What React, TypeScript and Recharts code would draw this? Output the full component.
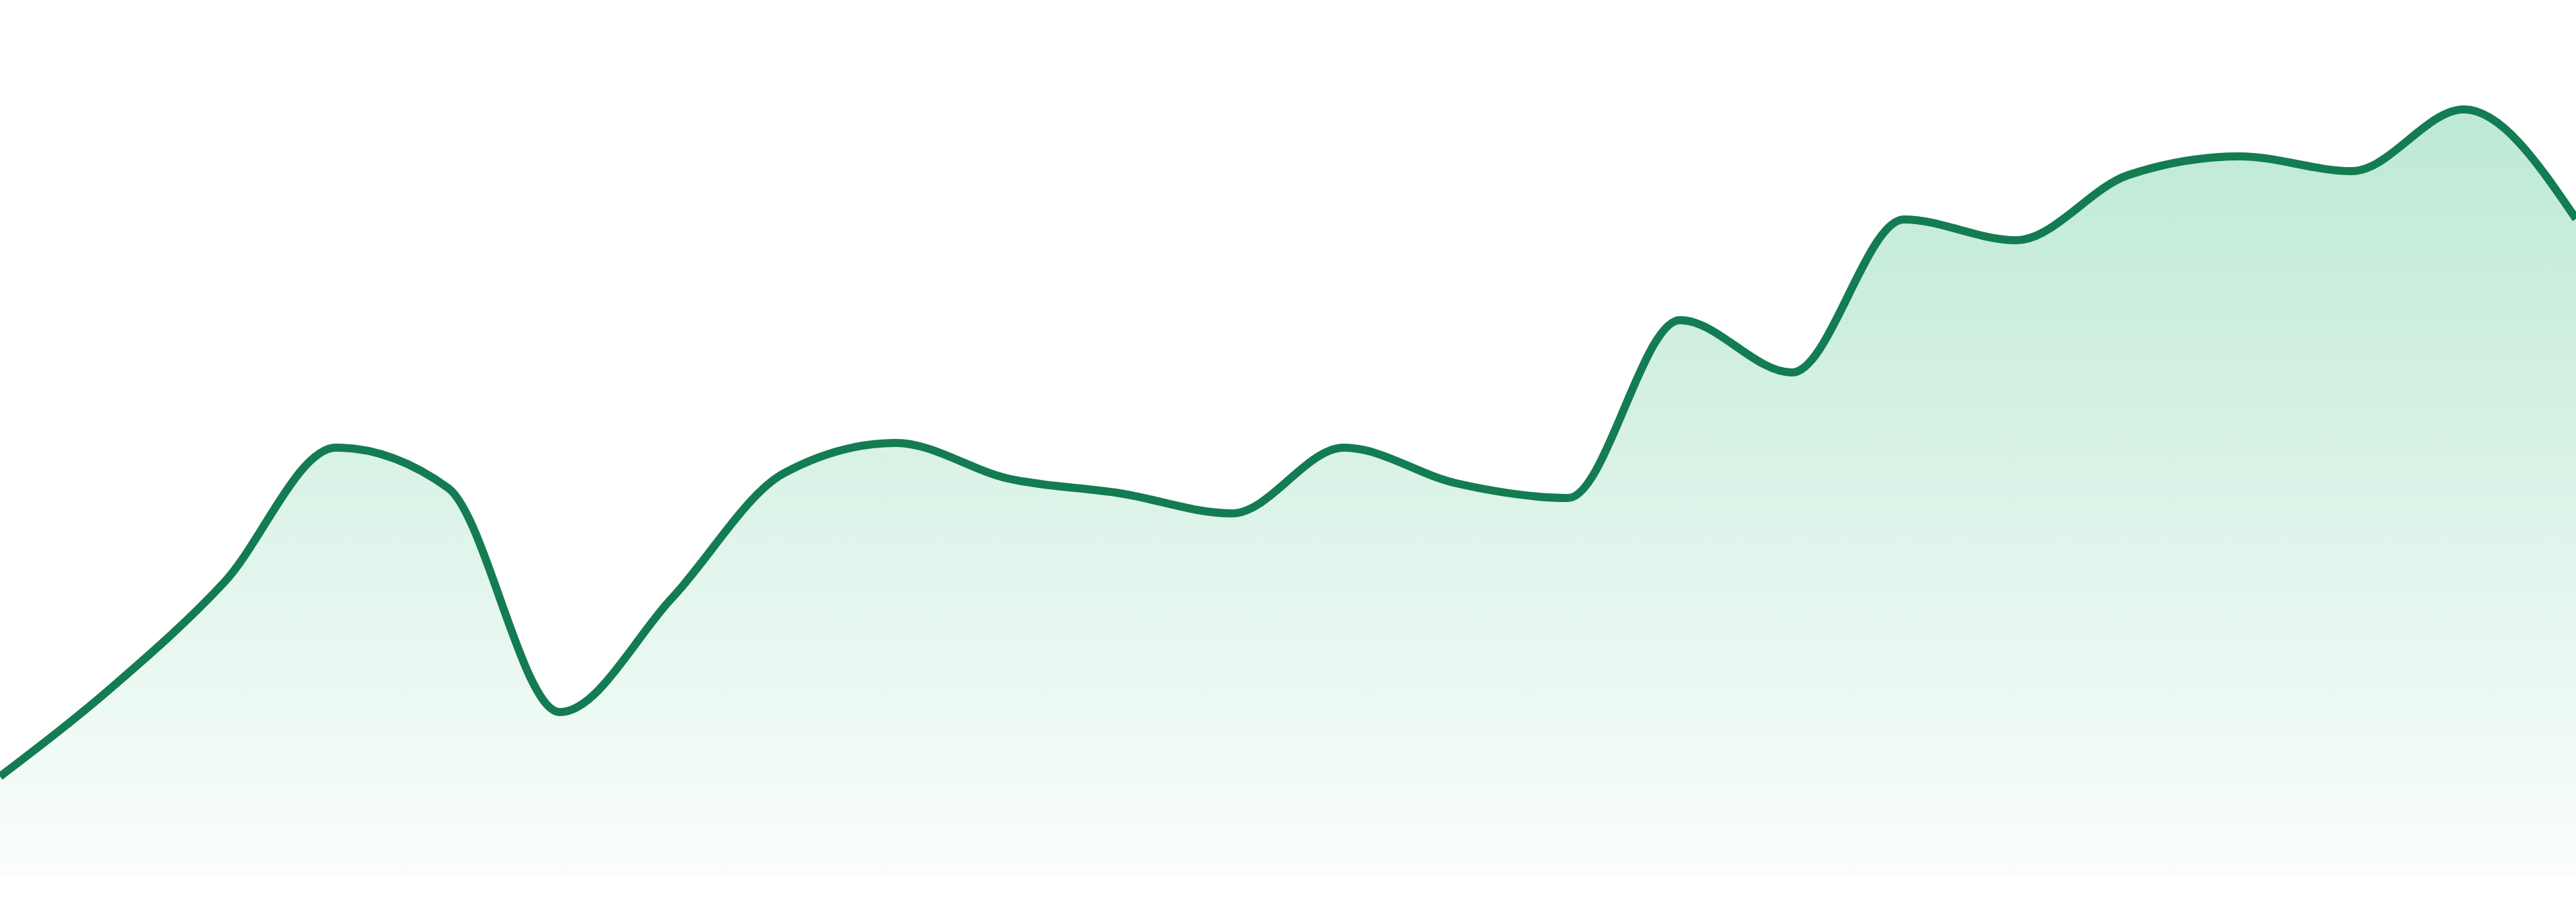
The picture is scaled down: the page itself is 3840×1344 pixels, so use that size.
import React from "react";
import { AreaChart, Area, XAxis, YAxis } from "recharts";

const categories: string[] = [
  "P1", "P2", "P3", "P4", "P5", "P6", "P7", "P8", "P9", "P10", "P11", "P12",
  "P13", "P14", "P15", "P16", "P17", "P18", "P19", "P20", "P21", "P22", "P23", "P24",
];

const values: number[] = [
  14.8, 28.1, 43.7, 63.8, 57.8, 24.4, 41.4, 60.0, 64.5, 59.2, 57.0, 54.0,
  63.8, 58.5, 56.3, 82.8, 75.0, 97.8, 94.7, 104.4, 107.2, 105.0, 114.2, 97.9,
];

const data = categories.map((name, i) => ({ name, value: values[i] }));

export default function App() {
  return (
    <div style={{ position: "absolute", left: 0, top: 0, width: 3840, height: 1344, background: "#ffffff" }}>
      <AreaChart
        width={3840}
        height={1344}
        data={data}
        margin={{ top: 0, right: 0, bottom: 39, left: 0 }}
      >
        <defs>
          <linearGradient id="areaFill" x1="0" y1="0" x2="0" y2="1">
            <stop offset="0%" stopColor="#22b573" stopOpacity={0.3} />
            <stop offset="100%" stopColor="#22b573" stopOpacity={0.02} />
          </linearGradient>
        </defs>
        <XAxis dataKey="name" hide />
        <YAxis hide domain={[0, 130.5]} />
        <Area
          type="monotone"
          dataKey="value"
          stroke="#137c52"
          strokeWidth={12}
          fill="url(#areaFill)"
          fillOpacity={1}
          dot={false}
          activeDot={false}
          isAnimationActive={false}
        />
      </AreaChart>
    </div>
  );
}
